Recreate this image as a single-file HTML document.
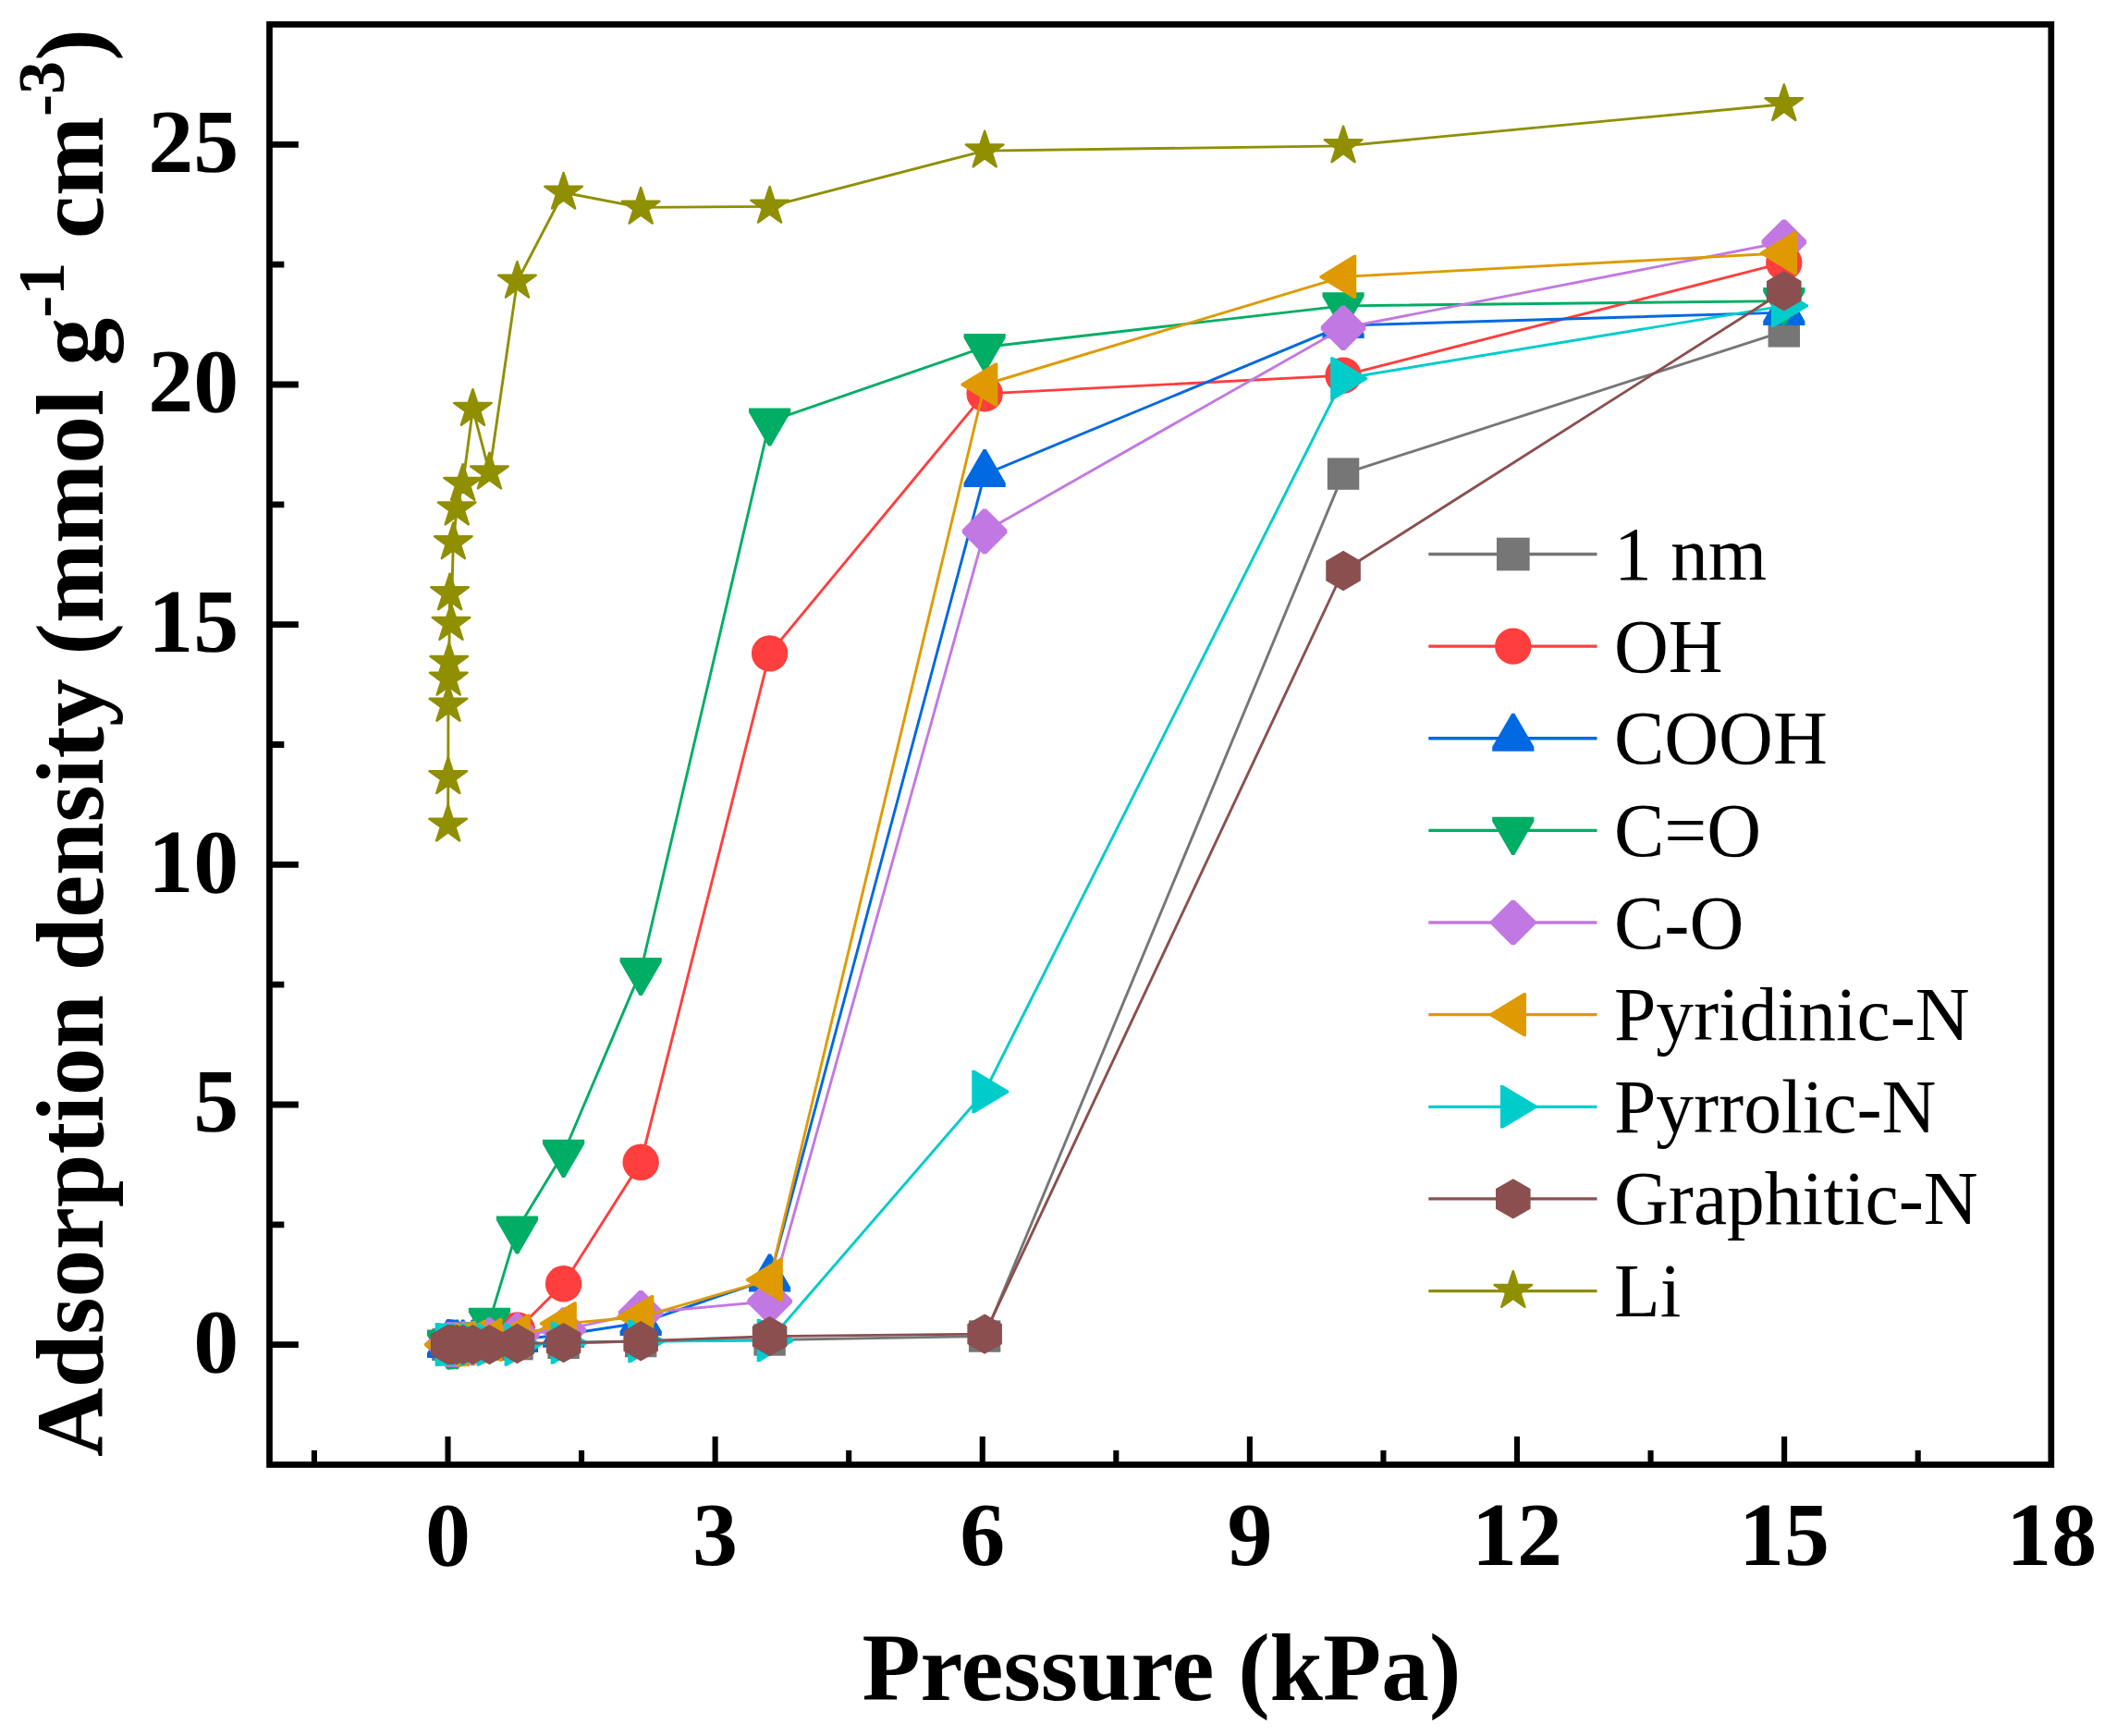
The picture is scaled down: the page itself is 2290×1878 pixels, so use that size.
<!DOCTYPE html>
<html><head><meta charset="utf-8"><title>Adsorption density vs pressure</title>
<style>html,body{margin:0;padding:0;background:#fff}svg{display:block}</style></head>
<body>
<svg width="2290" height="1878" viewBox="0 0 2290 1878">
<rect width="2290" height="1878" fill="#fff"/>
<g>
<polyline points="484.66,1454.67 484.77,1454.67 484.95,1454.67 485.25,1454.67 485.75,1454.67 486.59,1454.67 487.98,1454.67 490.31,1454.67 494.19,1454.67 500.66,1454.67 511.45,1454.67 529.46,1454.67 559.49,1454.15 609.60,1452.85 693.17,1451.03 832.59,1449.47 1065.14,1445.53 1453.07,512.60 1929.80,358.35" fill="none" stroke="#767676" stroke-width="2.90" stroke-linejoin="round"/>
<rect x="467.46" y="1437.47" width="34.40" height="34.40" fill="#767676"/>
<rect x="467.57" y="1437.47" width="34.40" height="34.40" fill="#767676"/>
<rect x="467.75" y="1437.47" width="34.40" height="34.40" fill="#767676"/>
<rect x="468.05" y="1437.47" width="34.40" height="34.40" fill="#767676"/>
<rect x="468.55" y="1437.47" width="34.40" height="34.40" fill="#767676"/>
<rect x="469.39" y="1437.47" width="34.40" height="34.40" fill="#767676"/>
<rect x="470.78" y="1437.47" width="34.40" height="34.40" fill="#767676"/>
<rect x="473.11" y="1437.47" width="34.40" height="34.40" fill="#767676"/>
<rect x="476.99" y="1437.47" width="34.40" height="34.40" fill="#767676"/>
<rect x="483.46" y="1437.47" width="34.40" height="34.40" fill="#767676"/>
<rect x="494.25" y="1437.47" width="34.40" height="34.40" fill="#767676"/>
<rect x="512.26" y="1437.47" width="34.40" height="34.40" fill="#767676"/>
<rect x="542.29" y="1436.95" width="34.40" height="34.40" fill="#767676"/>
<rect x="592.40" y="1435.65" width="34.40" height="34.40" fill="#767676"/>
<rect x="675.97" y="1433.83" width="34.40" height="34.40" fill="#767676"/>
<rect x="815.39" y="1432.27" width="34.40" height="34.40" fill="#767676"/>
<rect x="1047.94" y="1428.33" width="34.40" height="34.40" fill="#767676"/>
<rect x="1435.87" y="495.40" width="34.40" height="34.40" fill="#767676"/>
<rect x="1912.60" y="341.15" width="34.40" height="34.40" fill="#767676"/>
</g>
<g>
<polyline points="484.66,1454.67 484.77,1454.67 484.95,1454.67 485.25,1454.67 485.75,1454.67 486.59,1454.67 487.98,1454.67 490.31,1454.67 494.19,1454.67 500.66,1454.67 511.45,1454.67 529.46,1450.51 559.49,1438.83 609.60,1388.81 693.17,1257.32 832.59,706.83 1065.14,425.87 1453.07,406.13 1929.80,284.09" fill="none" stroke="#FF3E3E" stroke-width="2.90" stroke-linejoin="round"/>
<circle cx="484.66" cy="1454.67" r="19.7" fill="#FF3E3E"/>
<circle cx="484.77" cy="1454.67" r="19.7" fill="#FF3E3E"/>
<circle cx="484.95" cy="1454.67" r="19.7" fill="#FF3E3E"/>
<circle cx="485.25" cy="1454.67" r="19.7" fill="#FF3E3E"/>
<circle cx="485.75" cy="1454.67" r="19.7" fill="#FF3E3E"/>
<circle cx="486.59" cy="1454.67" r="19.7" fill="#FF3E3E"/>
<circle cx="487.98" cy="1454.67" r="19.7" fill="#FF3E3E"/>
<circle cx="490.31" cy="1454.67" r="19.7" fill="#FF3E3E"/>
<circle cx="494.19" cy="1454.67" r="19.7" fill="#FF3E3E"/>
<circle cx="500.66" cy="1454.67" r="19.7" fill="#FF3E3E"/>
<circle cx="511.45" cy="1454.67" r="19.7" fill="#FF3E3E"/>
<circle cx="529.46" cy="1450.51" r="19.7" fill="#FF3E3E"/>
<circle cx="559.49" cy="1438.83" r="19.7" fill="#FF3E3E"/>
<circle cx="609.60" cy="1388.81" r="19.7" fill="#FF3E3E"/>
<circle cx="693.17" cy="1257.32" r="19.7" fill="#FF3E3E"/>
<circle cx="832.59" cy="706.83" r="19.7" fill="#FF3E3E"/>
<circle cx="1065.14" cy="425.87" r="19.7" fill="#FF3E3E"/>
<circle cx="1453.07" cy="406.13" r="19.7" fill="#FF3E3E"/>
<circle cx="1929.80" cy="284.09" r="19.7" fill="#FF3E3E"/>
</g>
<g>
<polyline points="484.66,1454.67 484.77,1454.67 484.95,1454.67 485.25,1454.67 485.75,1454.67 486.59,1454.67 487.98,1454.67 490.31,1454.67 494.19,1454.67 500.66,1454.67 511.45,1454.67 529.46,1452.07 559.49,1449.21 609.60,1443.76 693.17,1431.04 832.59,1383.52 1065.14,513.12 1453.07,352.12 1929.80,338.10" fill="none" stroke="#0068E0" stroke-width="2.90" stroke-linejoin="round"/>
<polygon points="483.16,1427.57 486.16,1427.57 507.26,1463.97 507.26,1468.57 462.06,1468.57 462.06,1463.97" fill="#0068E0"/>
<polygon points="483.27,1427.57 486.27,1427.57 507.37,1463.97 507.37,1468.57 462.17,1468.57 462.17,1463.97" fill="#0068E0"/>
<polygon points="483.45,1427.57 486.45,1427.57 507.55,1463.97 507.55,1468.57 462.35,1468.57 462.35,1463.97" fill="#0068E0"/>
<polygon points="483.75,1427.57 486.75,1427.57 507.85,1463.97 507.85,1468.57 462.65,1468.57 462.65,1463.97" fill="#0068E0"/>
<polygon points="484.25,1427.57 487.25,1427.57 508.35,1463.97 508.35,1468.57 463.15,1468.57 463.15,1463.97" fill="#0068E0"/>
<polygon points="485.09,1427.57 488.09,1427.57 509.19,1463.97 509.19,1468.57 463.99,1468.57 463.99,1463.97" fill="#0068E0"/>
<polygon points="486.48,1427.57 489.48,1427.57 510.58,1463.97 510.58,1468.57 465.38,1468.57 465.38,1463.97" fill="#0068E0"/>
<polygon points="488.81,1427.57 491.81,1427.57 512.91,1463.97 512.91,1468.57 467.71,1468.57 467.71,1463.97" fill="#0068E0"/>
<polygon points="492.69,1427.57 495.69,1427.57 516.79,1463.97 516.79,1468.57 471.59,1468.57 471.59,1463.97" fill="#0068E0"/>
<polygon points="499.16,1427.57 502.16,1427.57 523.26,1463.97 523.26,1468.57 478.06,1468.57 478.06,1463.97" fill="#0068E0"/>
<polygon points="509.95,1427.57 512.95,1427.57 534.05,1463.97 534.05,1468.57 488.85,1468.57 488.85,1463.97" fill="#0068E0"/>
<polygon points="527.96,1424.97 530.96,1424.97 552.06,1461.37 552.06,1465.97 506.86,1465.97 506.86,1461.37" fill="#0068E0"/>
<polygon points="557.99,1422.11 560.99,1422.11 582.09,1458.51 582.09,1463.11 536.89,1463.11 536.89,1458.51" fill="#0068E0"/>
<polygon points="608.10,1416.66 611.10,1416.66 632.20,1453.06 632.20,1457.66 587.00,1457.66 587.00,1453.06" fill="#0068E0"/>
<polygon points="691.67,1403.94 694.67,1403.94 715.77,1440.34 715.77,1444.94 670.57,1444.94 670.57,1440.34" fill="#0068E0"/>
<polygon points="831.09,1356.42 834.09,1356.42 855.19,1392.82 855.19,1397.42 809.99,1397.42 809.99,1392.82" fill="#0068E0"/>
<polygon points="1063.64,486.02 1066.64,486.02 1087.74,522.42 1087.74,527.02 1042.54,527.02 1042.54,522.42" fill="#0068E0"/>
<polygon points="1451.57,325.02 1454.57,325.02 1475.67,361.42 1475.67,366.02 1430.47,366.02 1430.47,361.42" fill="#0068E0"/>
<polygon points="1928.30,311.00 1931.30,311.00 1952.40,347.40 1952.40,352.00 1907.20,352.00 1907.20,347.40" fill="#0068E0"/>
</g>
<g>
<polyline points="484.66,1453.11 484.77,1454.67 484.95,1454.67 485.25,1454.67 485.75,1454.67 486.59,1454.67 487.98,1454.67 490.31,1454.67 494.19,1454.67 500.66,1450.51 511.45,1444.80 529.46,1429.43 559.49,1330.03 609.60,1247.45 693.17,1050.62 832.59,455.99 1065.14,375.49 1453.07,330.83 1929.80,325.64" fill="none" stroke="#00AD65" stroke-width="2.90" stroke-linejoin="round"/>
<polygon points="483.16,1479.61 486.16,1479.61 507.26,1443.11 507.26,1438.51 462.06,1438.51 462.06,1443.11" fill="#00AD65"/>
<polygon points="483.27,1481.17 486.27,1481.17 507.37,1444.67 507.37,1440.07 462.17,1440.07 462.17,1444.67" fill="#00AD65"/>
<polygon points="483.45,1481.17 486.45,1481.17 507.55,1444.67 507.55,1440.07 462.35,1440.07 462.35,1444.67" fill="#00AD65"/>
<polygon points="483.75,1481.17 486.75,1481.17 507.85,1444.67 507.85,1440.07 462.65,1440.07 462.65,1444.67" fill="#00AD65"/>
<polygon points="484.25,1481.17 487.25,1481.17 508.35,1444.67 508.35,1440.07 463.15,1440.07 463.15,1444.67" fill="#00AD65"/>
<polygon points="485.09,1481.17 488.09,1481.17 509.19,1444.67 509.19,1440.07 463.99,1440.07 463.99,1444.67" fill="#00AD65"/>
<polygon points="486.48,1481.17 489.48,1481.17 510.58,1444.67 510.58,1440.07 465.38,1440.07 465.38,1444.67" fill="#00AD65"/>
<polygon points="488.81,1481.17 491.81,1481.17 512.91,1444.67 512.91,1440.07 467.71,1440.07 467.71,1444.67" fill="#00AD65"/>
<polygon points="492.69,1481.17 495.69,1481.17 516.79,1444.67 516.79,1440.07 471.59,1440.07 471.59,1444.67" fill="#00AD65"/>
<polygon points="499.16,1477.01 502.16,1477.01 523.26,1440.51 523.26,1435.91 478.06,1435.91 478.06,1440.51" fill="#00AD65"/>
<polygon points="509.95,1471.30 512.95,1471.30 534.05,1434.80 534.05,1430.20 488.85,1430.20 488.85,1434.80" fill="#00AD65"/>
<polygon points="527.96,1455.93 530.96,1455.93 552.06,1419.43 552.06,1414.83 506.86,1414.83 506.86,1419.43" fill="#00AD65"/>
<polygon points="557.99,1356.53 560.99,1356.53 582.09,1320.03 582.09,1315.43 536.89,1315.43 536.89,1320.03" fill="#00AD65"/>
<polygon points="608.10,1273.95 611.10,1273.95 632.20,1237.45 632.20,1232.85 587.00,1232.85 587.00,1237.45" fill="#00AD65"/>
<polygon points="691.67,1077.12 694.67,1077.12 715.77,1040.62 715.77,1036.02 670.57,1036.02 670.57,1040.62" fill="#00AD65"/>
<polygon points="831.09,482.49 834.09,482.49 855.19,445.99 855.19,441.39 809.99,441.39 809.99,445.99" fill="#00AD65"/>
<polygon points="1063.64,401.99 1066.64,401.99 1087.74,365.49 1087.74,360.89 1042.54,360.89 1042.54,365.49" fill="#00AD65"/>
<polygon points="1451.57,357.33 1454.57,357.33 1475.67,320.83 1475.67,316.23 1430.47,316.23 1430.47,320.83" fill="#00AD65"/>
<polygon points="1928.30,352.14 1931.30,352.14 1952.40,315.64 1952.40,311.04 1907.20,311.04 1907.20,315.64" fill="#00AD65"/>
</g>
<g>
<polyline points="484.66,1454.67 484.77,1454.67 484.95,1454.67 485.25,1454.67 485.75,1454.67 486.59,1454.67 487.98,1454.67 490.31,1454.67 494.19,1454.67 500.66,1453.63 511.45,1453.11 529.46,1449.47 559.49,1444.28 609.60,1438.57 693.17,1420.39 832.59,1407.72 1065.14,574.92 1453.07,354.72 1929.80,261.76" fill="none" stroke="#C278E2" stroke-width="2.90" stroke-linejoin="round"/>
<polygon points="482.86,1430.37 486.46,1430.37 508.96,1452.87 508.96,1456.47 486.46,1478.97 482.86,1478.97 460.36,1456.47 460.36,1452.87" fill="#C278E2"/>
<polygon points="482.97,1430.37 486.57,1430.37 509.07,1452.87 509.07,1456.47 486.57,1478.97 482.97,1478.97 460.47,1456.47 460.47,1452.87" fill="#C278E2"/>
<polygon points="483.15,1430.37 486.75,1430.37 509.25,1452.87 509.25,1456.47 486.75,1478.97 483.15,1478.97 460.65,1456.47 460.65,1452.87" fill="#C278E2"/>
<polygon points="483.45,1430.37 487.05,1430.37 509.55,1452.87 509.55,1456.47 487.05,1478.97 483.45,1478.97 460.95,1456.47 460.95,1452.87" fill="#C278E2"/>
<polygon points="483.95,1430.37 487.55,1430.37 510.05,1452.87 510.05,1456.47 487.55,1478.97 483.95,1478.97 461.45,1456.47 461.45,1452.87" fill="#C278E2"/>
<polygon points="484.79,1430.37 488.39,1430.37 510.89,1452.87 510.89,1456.47 488.39,1478.97 484.79,1478.97 462.29,1456.47 462.29,1452.87" fill="#C278E2"/>
<polygon points="486.18,1430.37 489.78,1430.37 512.28,1452.87 512.28,1456.47 489.78,1478.97 486.18,1478.97 463.68,1456.47 463.68,1452.87" fill="#C278E2"/>
<polygon points="488.51,1430.37 492.11,1430.37 514.61,1452.87 514.61,1456.47 492.11,1478.97 488.51,1478.97 466.01,1456.47 466.01,1452.87" fill="#C278E2"/>
<polygon points="492.39,1430.37 495.99,1430.37 518.49,1452.87 518.49,1456.47 495.99,1478.97 492.39,1478.97 469.89,1456.47 469.89,1452.87" fill="#C278E2"/>
<polygon points="498.86,1429.33 502.46,1429.33 524.96,1451.83 524.96,1455.43 502.46,1477.93 498.86,1477.93 476.36,1455.43 476.36,1451.83" fill="#C278E2"/>
<polygon points="509.65,1428.81 513.25,1428.81 535.75,1451.31 535.75,1454.91 513.25,1477.41 509.65,1477.41 487.15,1454.91 487.15,1451.31" fill="#C278E2"/>
<polygon points="527.66,1425.17 531.26,1425.17 553.76,1447.67 553.76,1451.27 531.26,1473.77 527.66,1473.77 505.16,1451.27 505.16,1447.67" fill="#C278E2"/>
<polygon points="557.69,1419.98 561.29,1419.98 583.79,1442.48 583.79,1446.08 561.29,1468.58 557.69,1468.58 535.19,1446.08 535.19,1442.48" fill="#C278E2"/>
<polygon points="607.80,1414.27 611.40,1414.27 633.90,1436.77 633.90,1440.37 611.40,1462.87 607.80,1462.87 585.30,1440.37 585.30,1436.77" fill="#C278E2"/>
<polygon points="691.37,1396.09 694.97,1396.09 717.47,1418.59 717.47,1422.19 694.97,1444.69 691.37,1444.69 668.87,1422.19 668.87,1418.59" fill="#C278E2"/>
<polygon points="830.79,1383.42 834.39,1383.42 856.89,1405.92 856.89,1409.52 834.39,1432.02 830.79,1432.02 808.29,1409.52 808.29,1405.92" fill="#C278E2"/>
<polygon points="1063.34,550.62 1066.94,550.62 1089.44,573.12 1089.44,576.72 1066.94,599.22 1063.34,599.22 1040.84,576.72 1040.84,573.12" fill="#C278E2"/>
<polygon points="1451.27,330.42 1454.87,330.42 1477.37,352.92 1477.37,356.52 1454.87,379.02 1451.27,379.02 1428.77,356.52 1428.77,352.92" fill="#C278E2"/>
<polygon points="1928.00,237.46 1931.60,237.46 1954.10,259.96 1954.10,263.56 1931.60,286.06 1928.00,286.06 1905.50,263.56 1905.50,259.96" fill="#C278E2"/>
</g>
<g>
<polyline points="484.66,1454.67 484.77,1454.67 484.95,1454.67 485.25,1454.67 485.75,1454.67 486.59,1454.67 487.98,1454.67 490.31,1454.67 494.19,1454.67 500.66,1452.59 511.45,1451.55 529.46,1449.47 559.49,1445.06 609.60,1431.82 693.17,1424.54 832.59,1384.40 1065.14,416.00 1453.07,299.41 1929.80,273.70" fill="none" stroke="#DE9A00" stroke-width="2.90" stroke-linejoin="round"/>
<polygon points="458.96,1453.67 496.06,1431.07 498.06,1431.07 498.86,1431.97 498.86,1477.37 498.06,1478.27 496.06,1478.27 458.96,1455.67" fill="#DE9A00"/>
<polygon points="459.07,1453.67 496.17,1431.07 498.17,1431.07 498.97,1431.97 498.97,1477.37 498.17,1478.27 496.17,1478.27 459.07,1455.67" fill="#DE9A00"/>
<polygon points="459.25,1453.67 496.35,1431.07 498.35,1431.07 499.15,1431.97 499.15,1477.37 498.35,1478.27 496.35,1478.27 459.25,1455.67" fill="#DE9A00"/>
<polygon points="459.55,1453.67 496.65,1431.07 498.65,1431.07 499.45,1431.97 499.45,1477.37 498.65,1478.27 496.65,1478.27 459.55,1455.67" fill="#DE9A00"/>
<polygon points="460.05,1453.67 497.15,1431.07 499.15,1431.07 499.95,1431.97 499.95,1477.37 499.15,1478.27 497.15,1478.27 460.05,1455.67" fill="#DE9A00"/>
<polygon points="460.89,1453.67 497.99,1431.07 499.99,1431.07 500.79,1431.97 500.79,1477.37 499.99,1478.27 497.99,1478.27 460.89,1455.67" fill="#DE9A00"/>
<polygon points="462.28,1453.67 499.38,1431.07 501.38,1431.07 502.18,1431.97 502.18,1477.37 501.38,1478.27 499.38,1478.27 462.28,1455.67" fill="#DE9A00"/>
<polygon points="464.61,1453.67 501.71,1431.07 503.71,1431.07 504.51,1431.97 504.51,1477.37 503.71,1478.27 501.71,1478.27 464.61,1455.67" fill="#DE9A00"/>
<polygon points="468.49,1453.67 505.59,1431.07 507.59,1431.07 508.39,1431.97 508.39,1477.37 507.59,1478.27 505.59,1478.27 468.49,1455.67" fill="#DE9A00"/>
<polygon points="474.96,1451.59 512.06,1428.99 514.06,1428.99 514.86,1429.89 514.86,1475.29 514.06,1476.19 512.06,1476.19 474.96,1453.59" fill="#DE9A00"/>
<polygon points="485.75,1450.55 522.85,1427.95 524.85,1427.95 525.65,1428.85 525.65,1474.25 524.85,1475.15 522.85,1475.15 485.75,1452.55" fill="#DE9A00"/>
<polygon points="503.76,1448.47 540.86,1425.87 542.86,1425.87 543.66,1426.77 543.66,1472.17 542.86,1473.07 540.86,1473.07 503.76,1450.47" fill="#DE9A00"/>
<polygon points="533.79,1444.06 570.89,1421.46 572.89,1421.46 573.69,1422.36 573.69,1467.76 572.89,1468.66 570.89,1468.66 533.79,1446.06" fill="#DE9A00"/>
<polygon points="583.90,1430.82 621.00,1408.22 623.00,1408.22 623.80,1409.12 623.80,1454.52 623.00,1455.42 621.00,1455.42 583.90,1432.82" fill="#DE9A00"/>
<polygon points="667.47,1423.54 704.57,1400.94 706.57,1400.94 707.37,1401.84 707.37,1447.24 706.57,1448.14 704.57,1448.14 667.47,1425.54" fill="#DE9A00"/>
<polygon points="806.89,1383.40 843.99,1360.80 845.99,1360.80 846.79,1361.70 846.79,1407.10 845.99,1408.00 843.99,1408.00 806.89,1385.40" fill="#DE9A00"/>
<polygon points="1039.44,415.00 1076.54,392.40 1078.54,392.40 1079.34,393.30 1079.34,438.70 1078.54,439.60 1076.54,439.60 1039.44,417.00" fill="#DE9A00"/>
<polygon points="1427.37,298.41 1464.47,275.81 1466.47,275.81 1467.27,276.71 1467.27,322.11 1466.47,323.01 1464.47,323.01 1427.37,300.41" fill="#DE9A00"/>
<polygon points="1904.10,272.70 1941.20,250.10 1943.20,250.10 1944.00,251.00 1944.00,296.40 1943.20,297.30 1941.20,297.30 1904.10,274.70" fill="#DE9A00"/>
</g>
<g>
<polyline points="484.66,1454.67 484.77,1454.67 484.95,1454.67 485.25,1454.67 485.75,1454.67 486.59,1454.67 487.98,1454.67 490.31,1454.67 494.19,1454.67 500.66,1454.67 511.45,1454.67 529.46,1454.67 559.49,1454.67 609.60,1452.59 693.17,1451.03 832.59,1449.99 1065.14,1180.98 1453.07,409.51 1929.80,330.83" fill="none" stroke="#00CCCC" stroke-width="2.90" stroke-linejoin="round"/>
<polygon points="510.86,1453.67 473.76,1431.47 470.76,1431.47 470.76,1477.87 473.76,1477.87 510.86,1455.67" fill="#00CCCC"/>
<polygon points="510.97,1453.67 473.87,1431.47 470.87,1431.47 470.87,1477.87 473.87,1477.87 510.97,1455.67" fill="#00CCCC"/>
<polygon points="511.15,1453.67 474.05,1431.47 471.05,1431.47 471.05,1477.87 474.05,1477.87 511.15,1455.67" fill="#00CCCC"/>
<polygon points="511.45,1453.67 474.35,1431.47 471.35,1431.47 471.35,1477.87 474.35,1477.87 511.45,1455.67" fill="#00CCCC"/>
<polygon points="511.95,1453.67 474.85,1431.47 471.85,1431.47 471.85,1477.87 474.85,1477.87 511.95,1455.67" fill="#00CCCC"/>
<polygon points="512.79,1453.67 475.69,1431.47 472.69,1431.47 472.69,1477.87 475.69,1477.87 512.79,1455.67" fill="#00CCCC"/>
<polygon points="514.18,1453.67 477.08,1431.47 474.08,1431.47 474.08,1477.87 477.08,1477.87 514.18,1455.67" fill="#00CCCC"/>
<polygon points="516.51,1453.67 479.41,1431.47 476.41,1431.47 476.41,1477.87 479.41,1477.87 516.51,1455.67" fill="#00CCCC"/>
<polygon points="520.39,1453.67 483.29,1431.47 480.29,1431.47 480.29,1477.87 483.29,1477.87 520.39,1455.67" fill="#00CCCC"/>
<polygon points="526.86,1453.67 489.76,1431.47 486.76,1431.47 486.76,1477.87 489.76,1477.87 526.86,1455.67" fill="#00CCCC"/>
<polygon points="537.65,1453.67 500.55,1431.47 497.55,1431.47 497.55,1477.87 500.55,1477.87 537.65,1455.67" fill="#00CCCC"/>
<polygon points="555.66,1453.67 518.56,1431.47 515.56,1431.47 515.56,1477.87 518.56,1477.87 555.66,1455.67" fill="#00CCCC"/>
<polygon points="585.69,1453.67 548.59,1431.47 545.59,1431.47 545.59,1477.87 548.59,1477.87 585.69,1455.67" fill="#00CCCC"/>
<polygon points="635.80,1451.59 598.70,1429.39 595.70,1429.39 595.70,1475.79 598.70,1475.79 635.80,1453.59" fill="#00CCCC"/>
<polygon points="719.37,1450.03 682.27,1427.83 679.27,1427.83 679.27,1474.23 682.27,1474.23 719.37,1452.03" fill="#00CCCC"/>
<polygon points="858.79,1448.99 821.69,1426.79 818.69,1426.79 818.69,1473.19 821.69,1473.19 858.79,1450.99" fill="#00CCCC"/>
<polygon points="1091.34,1179.98 1054.24,1157.78 1051.24,1157.78 1051.24,1204.18 1054.24,1204.18 1091.34,1181.98" fill="#00CCCC"/>
<polygon points="1479.27,408.51 1442.17,386.31 1439.17,386.31 1439.17,432.71 1442.17,432.71 1479.27,410.51" fill="#00CCCC"/>
<polygon points="1956.00,329.83 1918.90,307.63 1915.90,307.63 1915.90,354.03 1918.90,354.03 1956.00,331.83" fill="#00CCCC"/>
</g>
<g>
<polyline points="484.66,1454.67 484.77,1454.67 484.95,1454.67 485.25,1454.67 485.75,1454.67 486.59,1454.67 487.98,1454.67 490.31,1454.67 494.19,1454.67 500.66,1454.67 511.45,1454.67 529.46,1454.67 559.49,1453.52 609.60,1452.59 693.17,1450.77 832.59,1445.63 1065.14,1443.08 1453.07,617.50 1929.80,314.73" fill="none" stroke="#8B4F4F" stroke-width="2.90" stroke-linejoin="round"/>
<polygon points="484.66,1432.97 503.45,1443.82 503.45,1465.52 484.66,1476.37 465.87,1465.52 465.87,1443.82" fill="#8B4F4F"/>
<polygon points="484.77,1432.97 503.56,1443.82 503.56,1465.52 484.77,1476.37 465.98,1465.52 465.98,1443.82" fill="#8B4F4F"/>
<polygon points="484.95,1432.97 503.74,1443.82 503.74,1465.52 484.95,1476.37 466.16,1465.52 466.16,1443.82" fill="#8B4F4F"/>
<polygon points="485.25,1432.97 504.04,1443.82 504.04,1465.52 485.25,1476.37 466.46,1465.52 466.46,1443.82" fill="#8B4F4F"/>
<polygon points="485.75,1432.97 504.54,1443.82 504.54,1465.52 485.75,1476.37 466.96,1465.52 466.96,1443.82" fill="#8B4F4F"/>
<polygon points="486.59,1432.97 505.38,1443.82 505.38,1465.52 486.59,1476.37 467.79,1465.52 467.79,1443.82" fill="#8B4F4F"/>
<polygon points="487.98,1432.97 506.77,1443.82 506.77,1465.52 487.98,1476.37 469.19,1465.52 469.19,1443.82" fill="#8B4F4F"/>
<polygon points="490.31,1432.97 509.10,1443.82 509.10,1465.52 490.31,1476.37 471.51,1465.52 471.51,1443.82" fill="#8B4F4F"/>
<polygon points="494.19,1432.97 512.98,1443.82 512.98,1465.52 494.19,1476.37 475.39,1465.52 475.39,1443.82" fill="#8B4F4F"/>
<polygon points="500.66,1432.97 519.45,1443.82 519.45,1465.52 500.66,1476.37 481.86,1465.52 481.86,1443.82" fill="#8B4F4F"/>
<polygon points="511.45,1432.97 530.24,1443.82 530.24,1465.52 511.45,1476.37 492.66,1465.52 492.66,1443.82" fill="#8B4F4F"/>
<polygon points="529.46,1432.97 548.25,1443.82 548.25,1465.52 529.46,1476.37 510.66,1465.52 510.66,1443.82" fill="#8B4F4F"/>
<polygon points="559.49,1431.82 578.29,1442.67 578.29,1464.37 559.49,1475.22 540.70,1464.37 540.70,1442.67" fill="#8B4F4F"/>
<polygon points="609.60,1430.89 628.39,1441.74 628.39,1463.44 609.60,1474.29 590.80,1463.44 590.80,1441.74" fill="#8B4F4F"/>
<polygon points="693.17,1429.07 711.96,1439.92 711.96,1461.62 693.17,1472.47 674.38,1461.62 674.38,1439.92" fill="#8B4F4F"/>
<polygon points="832.59,1423.93 851.38,1434.78 851.38,1456.48 832.59,1467.33 813.79,1456.48 813.79,1434.78" fill="#8B4F4F"/>
<polygon points="1065.14,1421.38 1083.93,1432.23 1083.93,1453.93 1065.14,1464.78 1046.35,1453.93 1046.35,1432.23" fill="#8B4F4F"/>
<polygon points="1453.07,595.80 1471.86,606.65 1471.86,628.35 1453.07,639.20 1434.28,628.35 1434.28,606.65" fill="#8B4F4F"/>
<polygon points="1929.80,293.03 1948.59,303.88 1948.59,325.58 1929.80,336.43 1911.01,325.58 1911.01,303.88" fill="#8B4F4F"/>
</g>
<g>
<polyline points="484.66,892.23 484.77,840.81 484.95,762.39 485.25,734.35 485.75,716.69 486.59,641.91 487.98,674.63 490.31,586.86 494.19,549.99 500.66,523.50 511.45,442.49 529.46,511.04 559.49,304.34 609.60,208.27 693.17,224.37 832.59,223.33 1065.14,163.08 1453.07,157.89 1929.80,112.71" fill="none" stroke="#8F8F00" stroke-width="2.90" stroke-linejoin="round"/>
<polygon points="484.66,870.93 489.44,885.65 504.92,885.65 492.40,894.74 497.18,909.46 484.66,900.36 472.14,909.46 476.92,894.74 464.40,885.65 479.88,885.65" fill="#8F8F00" stroke="#8F8F00" stroke-width="2.5" stroke-linejoin="round"/>
<polygon points="484.77,819.51 489.55,834.23 505.03,834.23 492.51,843.33 497.29,858.05 484.77,848.95 472.25,858.05 477.03,843.33 464.51,834.23 479.99,834.23" fill="#8F8F00" stroke="#8F8F00" stroke-width="2.5" stroke-linejoin="round"/>
<polygon points="484.95,741.09 489.73,755.81 505.21,755.81 492.69,764.91 497.47,779.63 484.95,770.53 472.43,779.63 477.21,764.91 464.69,755.81 480.17,755.81" fill="#8F8F00" stroke="#8F8F00" stroke-width="2.5" stroke-linejoin="round"/>
<polygon points="485.25,713.05 490.03,727.77 505.51,727.77 492.99,736.87 497.77,751.58 485.25,742.49 472.73,751.58 477.51,736.87 464.99,727.77 480.47,727.77" fill="#8F8F00" stroke="#8F8F00" stroke-width="2.5" stroke-linejoin="round"/>
<polygon points="485.75,695.39 490.53,710.11 506.01,710.11 493.49,719.21 498.27,733.93 485.75,724.83 473.23,733.93 478.01,719.21 465.49,710.11 480.97,710.11" fill="#8F8F00" stroke="#8F8F00" stroke-width="2.5" stroke-linejoin="round"/>
<polygon points="486.59,620.61 491.37,635.33 506.84,635.33 494.33,644.42 499.11,659.14 486.59,650.05 474.07,659.14 478.85,644.42 466.33,635.33 481.80,635.33" fill="#8F8F00" stroke="#8F8F00" stroke-width="2.5" stroke-linejoin="round"/>
<polygon points="487.98,653.33 492.76,668.04 508.24,668.05 495.72,677.14 500.50,691.86 487.98,682.76 475.46,691.86 480.24,677.14 467.72,668.05 483.20,668.04" fill="#8F8F00" stroke="#8F8F00" stroke-width="2.5" stroke-linejoin="round"/>
<polygon points="490.31,565.56 495.09,580.28 510.56,580.28 498.04,589.37 502.83,604.09 490.31,595.00 477.79,604.09 482.57,589.37 470.05,580.28 485.52,580.28" fill="#8F8F00" stroke="#8F8F00" stroke-width="2.5" stroke-linejoin="round"/>
<polygon points="494.19,528.69 498.97,543.41 514.44,543.41 501.92,552.50 506.71,567.22 494.19,558.12 481.67,567.22 486.45,552.50 473.93,543.41 489.40,543.41" fill="#8F8F00" stroke="#8F8F00" stroke-width="2.5" stroke-linejoin="round"/>
<polygon points="500.66,502.20 505.44,516.92 520.91,516.92 508.40,526.02 513.18,540.73 500.66,531.64 488.14,540.73 492.92,526.02 480.40,516.92 495.87,516.92" fill="#8F8F00" stroke="#8F8F00" stroke-width="2.5" stroke-linejoin="round"/>
<polygon points="511.45,421.19 516.23,435.90 531.71,435.90 519.19,445.00 523.97,459.72 511.45,450.62 498.93,459.72 503.71,445.00 491.19,435.90 506.67,435.90" fill="#8F8F00" stroke="#8F8F00" stroke-width="2.5" stroke-linejoin="round"/>
<polygon points="529.46,489.74 534.24,504.46 549.71,504.46 537.20,513.55 541.98,528.27 529.46,519.17 516.94,528.27 521.72,513.55 509.20,504.46 524.67,504.46" fill="#8F8F00" stroke="#8F8F00" stroke-width="2.5" stroke-linejoin="round"/>
<polygon points="559.49,283.04 564.28,297.76 579.75,297.76 567.23,306.86 572.01,321.58 559.49,312.48 546.97,321.58 551.75,306.86 539.24,297.76 554.71,297.76" fill="#8F8F00" stroke="#8F8F00" stroke-width="2.5" stroke-linejoin="round"/>
<polygon points="609.60,186.97 614.38,201.68 629.85,201.68 617.33,210.78 622.12,225.50 609.60,216.40 597.08,225.50 601.86,210.78 589.34,201.68 604.81,201.68" fill="#8F8F00" stroke="#8F8F00" stroke-width="2.5" stroke-linejoin="round"/>
<polygon points="693.17,203.07 697.95,217.78 713.43,217.78 700.91,226.88 705.69,241.60 693.17,232.50 680.65,241.60 685.43,226.88 672.91,217.78 688.39,217.78" fill="#8F8F00" stroke="#8F8F00" stroke-width="2.5" stroke-linejoin="round"/>
<polygon points="832.59,202.03 837.37,216.74 852.84,216.75 840.32,225.84 845.11,240.56 832.59,231.46 820.07,240.56 824.85,225.84 812.33,216.75 827.80,216.74" fill="#8F8F00" stroke="#8F8F00" stroke-width="2.5" stroke-linejoin="round"/>
<polygon points="1065.14,141.78 1069.92,156.50 1085.40,156.50 1072.88,165.60 1077.66,180.32 1065.14,171.22 1052.62,180.32 1057.40,165.60 1044.88,156.50 1060.36,156.50" fill="#8F8F00" stroke="#8F8F00" stroke-width="2.5" stroke-linejoin="round"/>
<polygon points="1453.07,136.59 1457.85,151.31 1473.33,151.31 1460.81,160.41 1465.59,175.12 1453.07,166.03 1440.55,175.12 1445.33,160.41 1432.81,151.31 1448.29,151.31" fill="#8F8F00" stroke="#8F8F00" stroke-width="2.5" stroke-linejoin="round"/>
<polygon points="1929.80,91.41 1934.58,106.13 1950.06,106.13 1937.54,115.22 1942.32,129.94 1929.80,120.85 1917.28,129.94 1922.06,115.22 1909.54,106.13 1925.02,106.13" fill="#8F8F00" stroke="#8F8F00" stroke-width="2.5" stroke-linejoin="round"/>
</g>
<rect x="291.50" y="26.40" width="1927.30" height="1558.10" fill="none" stroke="#000" stroke-width="6.70"/>
<path d="M293.85 1454.67h29.00 M293.85 1195.00h29.00 M293.85 935.33h29.00 M293.85 675.67h29.00 M293.85 416.00h29.00 M293.85 156.33h29.00 M293.85 1324.83h13.50 M293.85 1065.17h13.50 M293.85 805.50h13.50 M293.85 545.83h13.50 M293.85 286.17h13.50" stroke="#000" stroke-width="6.8" fill="none"/>
<path d="M484.50 1582.15v-28.20 M773.62 1582.15v-28.20 M1062.75 1582.15v-28.20 M1351.88 1582.15v-28.20 M1641.00 1582.15v-28.20 M1930.12 1582.15v-28.20 M339.94 1582.15v-13.10 M629.06 1582.15v-13.10 M918.19 1582.15v-13.10 M1207.31 1582.15v-13.10 M1496.44 1582.15v-13.10 M1785.56 1582.15v-13.10 M2074.69 1582.15v-13.10" stroke="#000" stroke-width="6.1" fill="none"/>
<g font-family="'Liberation Serif', serif" font-weight="bold" font-size="98.0" fill="#000">
<text x="258.30" y="1483.97" text-anchor="end">0</text>
<text x="258.30" y="1224.30" text-anchor="end">5</text>
<text x="258.30" y="964.63" text-anchor="end">10</text>
<text x="258.30" y="704.97" text-anchor="end">15</text>
<text x="258.30" y="445.30" text-anchor="end">20</text>
<text x="258.30" y="185.63" text-anchor="end">25</text>
<text x="484.50" y="1692.50" text-anchor="middle">0</text>
<text x="773.62" y="1692.50" text-anchor="middle">3</text>
<text x="1062.75" y="1692.50" text-anchor="middle">6</text>
<text x="1351.88" y="1692.50" text-anchor="middle">9</text>
<text x="1641.00" y="1692.50" text-anchor="middle">12</text>
<text x="1930.12" y="1692.50" text-anchor="middle">15</text>
<text x="2219.25" y="1692.50" text-anchor="middle">18</text>
</g>
<g font-family="'Liberation Serif', serif" font-weight="bold" font-size="103.4" fill="#000">
<text id="xt" x="1256.40" y="1838.80" text-anchor="middle">Pressure (kPa)</text>
<text id="yt" transform="translate(111.00 1576.00) rotate(-90)" text-anchor="start">Adsorption density (mmol g<tspan font-size="72.1" dy="-42.0">-1</tspan><tspan dy="42.0"> cm</tspan><tspan font-size="72.1" dy="-42.0">-3</tspan><tspan dy="42.0">)</tspan></text>
</g>
<g font-family="'Liberation Serif', serif" font-size="81.5" fill="#000">
<line x1="1545.30" y1="599.50" x2="1727.50" y2="599.50" stroke="#767676" stroke-width="3.30"/>
<rect x="1618.95" y="581.65" width="35.70" height="35.70" fill="#767676"/>
<text x="1745.90" y="627.00">1 nm</text>
<line x1="1545.30" y1="699.13" x2="1727.50" y2="699.13" stroke="#FF3E3E" stroke-width="3.30"/>
<circle cx="1636.80" cy="699.13" r="19.7" fill="#FF3E3E"/>
<text x="1745.90" y="726.63">OH</text>
<line x1="1545.30" y1="798.76" x2="1727.50" y2="798.76" stroke="#0068E0" stroke-width="3.30"/>
<polygon points="1635.30,771.66 1638.30,771.66 1659.40,808.06 1659.40,812.66 1614.20,812.66 1614.20,808.06" fill="#0068E0"/>
<text x="1745.90" y="826.26">COOH</text>
<line x1="1545.30" y1="898.39" x2="1727.50" y2="898.39" stroke="#00AD65" stroke-width="3.30"/>
<polygon points="1635.30,924.89 1638.30,924.89 1659.40,888.39 1659.40,883.79 1614.20,883.79 1614.20,888.39" fill="#00AD65"/>
<text x="1745.90" y="925.89">C=O</text>
<line x1="1545.30" y1="998.02" x2="1727.50" y2="998.02" stroke="#C278E2" stroke-width="3.30"/>
<polygon points="1635.00,973.72 1638.60,973.72 1661.10,996.22 1661.10,999.82 1638.60,1022.32 1635.00,1022.32 1612.50,999.82 1612.50,996.22" fill="#C278E2"/>
<text x="1745.90" y="1025.52">C-O</text>
<line x1="1545.30" y1="1097.65" x2="1727.50" y2="1097.65" stroke="#DE9A00" stroke-width="3.30"/>
<polygon points="1611.10,1096.65 1648.20,1074.05 1650.20,1074.05 1651.00,1074.95 1651.00,1120.35 1650.20,1121.25 1648.20,1121.25 1611.10,1098.65" fill="#DE9A00"/>
<text x="1745.90" y="1125.15">Pyridinic-N</text>
<line x1="1545.30" y1="1197.28" x2="1727.50" y2="1197.28" stroke="#00CCCC" stroke-width="3.30"/>
<polygon points="1663.00,1196.28 1625.90,1174.08 1622.90,1174.08 1622.90,1220.48 1625.90,1220.48 1663.00,1198.28" fill="#00CCCC"/>
<text x="1745.90" y="1224.78">Pyrrolic-N</text>
<line x1="1545.30" y1="1296.91" x2="1727.50" y2="1296.91" stroke="#8B4F4F" stroke-width="3.30"/>
<polygon points="1636.80,1275.21 1655.59,1286.06 1655.59,1307.76 1636.80,1318.61 1618.01,1307.76 1618.01,1286.06" fill="#8B4F4F"/>
<text x="1745.90" y="1324.41">Graphitic-N</text>
<line x1="1545.30" y1="1396.54" x2="1727.50" y2="1396.54" stroke="#8F8F00" stroke-width="3.30"/>
<polygon points="1636.80,1375.24 1641.58,1389.96 1657.06,1389.96 1644.54,1399.05 1649.32,1413.77 1636.80,1404.68 1624.28,1413.77 1629.06,1399.05 1616.54,1389.96 1632.02,1389.96" fill="#8F8F00" stroke="#8F8F00" stroke-width="2.5" stroke-linejoin="round"/>
<text x="1745.90" y="1424.04">Li</text>
</g>
</svg>
</body></html>
